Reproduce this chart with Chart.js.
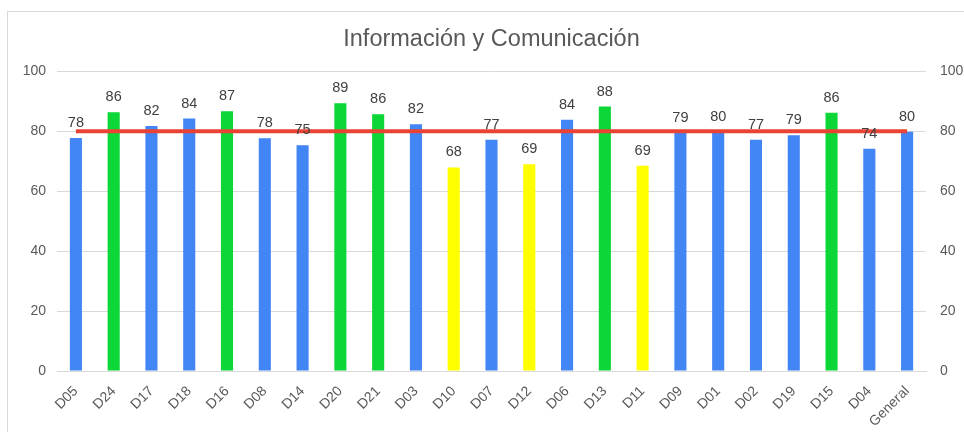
<!DOCTYPE html>
<html>
<head>
<meta charset="utf-8">
<script src="https://cdn.jsdelivr.net/npm/chart.js@4/dist/chart.umd.min.js"></script>
<style>
  body { margin: 0; background: #fff; overflow: hidden; }
  #wrap { position: relative; width: 964px; height: 432px; }
  #frame { position: absolute; left: 7px; top: 11px; width: 1000px; height: 500px; border: 1px solid #d9d9d9; box-sizing: border-box; }
  canvas { position: absolute; left: 0; top: 0; }
</style>
</head>
<body>
<div id="wrap">
  <div id="frame"></div>
  <canvas id="myChart" width="964" height="432"></canvas>
</div>
<script>
var titulo = 'Información y Comunicación';
var names = ['D05','D24','D17','D18','D16','D08','D14','D20','D21','D03','D10','D07','D12','D06','D13','D11','D09','D01','D02','D19','D15','D04','General'];
var totals = [77.7, 86.3, 81.7, 84.2, 86.6, 77.6, 75.3, 89.3, 85.6, 82.3, 67.9, 77.1, 69.0, 83.8, 88.2, 68.5, 79.4, 79.6, 77.1, 78.6, 86.1, 74.1, 79.8];
var grupos = ['b','g','b','b','g','b','b','g','g','b','y','b','y','b','g','y','b','b','b','b','g','b','b'];
var meta = [80, 80, 80, 80, 80, 80, 80, 80, 80, 80, 80, 80, 80, 80, 80, 80, 80, 80, 80, 80, 80, 80, 80];
var yTicks = [0, 20, 40, 60, 80, 100];

var colores = { b: '#4285f4', g: '#0dd637', y: '#ffff00' };
var barColors = grupos.map(function (g) { return colores[g]; });
var fuente = "'Liberation Sans', Arial, sans-serif";

// etiquetas encima de las barras y titulo centrado sobre el area del grafico
var etiquetas = {
    id: 'etiquetas',
    afterDatasetsDraw: function (chart) {
        var ctx = chart.ctx;
        var meta1 = chart.getDatasetMeta(1);
        ctx.save();
        ctx.font = '14.5px ' + fuente;
        ctx.fillStyle = '#404040';
        ctx.textAlign = 'center';
        ctx.textBaseline = 'middle';
        meta1.data.forEach(function (bar, i) {
            ctx.fillText(Math.round(totals[i]), bar.x, bar.y - 15);
        });
        var tb = chart.titleBlock;
        var area = chart.chartArea;
        ctx.font = '23.5px ' + fuente;
        ctx.fillStyle = '#595959';
        ctx.fillText(titulo, (area.left + area.right) / 2, tb.top + 24 + 16);
        ctx.restore();
    }
};

var ctx = document.getElementById('myChart').getContext('2d');
var chart = new Chart(ctx, {
    type: 'bar',
    data: {
        labels: names,
        datasets: [{
            type: 'line',
            data: meta,
            borderColor: '#ea4335',
            borderWidth: 4,
            pointRadius: 0,
            fill: false,
            order: 0,
            yAxisID: 'y'
        }, {
            data: totals,
            backgroundColor: barColors,
            barPercentage: 0.32,
            categoryPercentage: 1,
            order: 1,
            yAxisID: 'y'
        }]
    },
    options: {
        responsive: false,
        animation: false,
        layout: { padding: 0 },
        plugins: {
            legend: { display: false },
            tooltip: { enabled: false },
            title: {
                display: true,
                text: titulo,
                color: 'rgba(0,0,0,0)',
                font: { family: fuente, size: 23.5, weight: 'normal' },
                padding: { top: 24, bottom: 19 }
            }
        },
        scales: {
            x: {
                grid: { display: false, drawTicks: false },
                border: { display: true, color: '#d9d9d9' },
                ticks: {
                    color: '#595959',
                    font: { family: fuente, size: 14 },
                    minRotation: 45,
                    maxRotation: 45,
                    padding: 12,
                    autoSkip: false
                },
                afterFit: function (s) { s.height = 61; }
            },
            y: {
                position: 'left',
                min: 0,
                max: 100,
                afterBuildTicks: function (s) { s.ticks = yTicks.map(function (v) { return { value: v }; }); },
                grid: { color: '#d9d9d9', drawTicks: false },
                border: { display: false },
                ticks: { color: '#595959', font: { family: fuente, size: 14 }, padding: 11 },
                afterFit: function (s) { s.width = 57; }
            },
            y1: {
                position: 'right',
                min: 0,
                max: 100,
                afterBuildTicks: function (s) { s.ticks = yTicks.map(function (v) { return { value: v }; }); },
                grid: { display: false, drawTicks: false },
                border: { display: false },
                ticks: { color: '#595959', font: { family: fuente, size: 14 }, padding: 14 },
                afterFit: function (s) { s.width = 38; }
            }
        }
    },
    plugins: [etiquetas]
});
</script>
</body>
</html>
